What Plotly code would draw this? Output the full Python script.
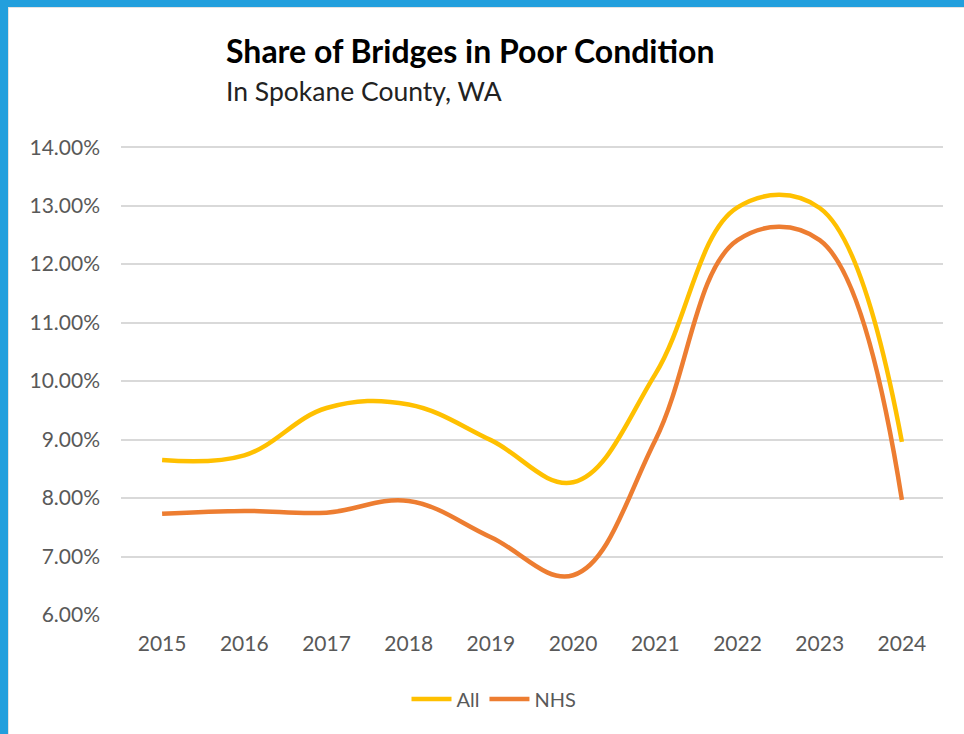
import plotly.graph_objects as go

years = ["2015", "2016", "2017", "2018", "2019", "2020", "2021", "2022", "2023", "2024"]
all_share = [8.65, 8.73, 9.54, 9.60, 8.99, 8.27, 10.12, 12.97, 12.96, 8.96]
nhs_share = [7.73, 7.78, 7.75, 7.95, 7.33, 6.68, 8.99, 12.41, 12.41, 7.97]
y_ticks = [6, 7, 8, 9, 10, 11, 12, 13, 14]
y_tick_labels = [f"{v:.2f}%" for v in y_ticks]

W, H = 964, 734
L, R, T, B = 121, 943, 146, 615
Y_MIN, Y_MAX = 6, 14.02


def px(x):
    return (x - L) / (R - L)


def py(y):
    return (B - y) / (B - T)


FONT = "Lato"
GREY = "#595959"

fig = go.Figure()
fig.add_trace(go.Scatter(x=years, y=all_share, name="All", mode="lines",
                         line=dict(color="#FFC000", width=4.5, shape="spline", smoothing=1.1)))
fig.add_trace(go.Scatter(x=years, y=nhs_share, name="NHS", mode="lines",
                         line=dict(color="#ED7D31", width=4.5, shape="spline", smoothing=1.1)))

fig.update_layout(
    width=W, height=H,
    margin=dict(l=L, r=W - R, t=T, b=H - B),
    paper_bgcolor="#229FDD",
    plot_bgcolor="rgba(0,0,0,0)",
    font=dict(family=FONT, color=GREY),
    showlegend=True,
    legend=dict(orientation="h", x=px(494), xanchor="center", y=py(699), yanchor="middle",
                font=dict(size=20, color=GREY), itemwidth=40, bgcolor="rgba(0,0,0,0)"),
    xaxis=dict(range=[-0.5, 9.5], showgrid=False, zeroline=False, showline=False, ticks="",
               tickfont=dict(size=21, color=GREY), ticklabelstandoff=14),
    yaxis=dict(range=[Y_MIN, Y_MAX], tickvals=y_ticks, ticktext=y_tick_labels,
               showgrid=True, gridcolor="#D9D9D9", gridwidth=1.5, zeroline=False,
               showline=False, ticks="", tickfont=dict(size=21, color=GREY),
               ticklabelstandoff=20),
    shapes=[
        dict(type="rect", xref="paper", yref="paper", x0=px(8), x1=px(970), y0=py(740), y1=py(7),
             fillcolor="white", line=dict(width=0), layer="below"),
        dict(type="line", xref="paper", yref="paper", x0=px(8.5), x1=px(8.5), y0=py(740), y1=py(7),
             line=dict(color="#E3E3E3", width=1), layer="below"),
        dict(type="line", xref="paper", yref="paper", x0=px(8), x1=px(970), y0=py(7.5), y1=py(7.5),
             line=dict(color="#E3E3E3", width=1), layer="below"),
    ],
    annotations=[
        dict(text="<b>Share of Bridges in Poor Condition</b>", xref="paper", yref="paper",
             x=px(224), y=py(51), xanchor="left", yanchor="middle", showarrow=False,
             font=dict(size=32, color="#000000", family=FONT)),
        dict(text="In Spokane County, WA", xref="paper", yref="paper",
             x=px(224), y=py(91), xanchor="left", yanchor="middle", showarrow=False,
             font=dict(size=26.5, color="#222222", family=FONT)),
    ],
)

fig.write_html("out.html", config={"displayModeBar": False},
               post_script="document.body.style.margin='0';")
